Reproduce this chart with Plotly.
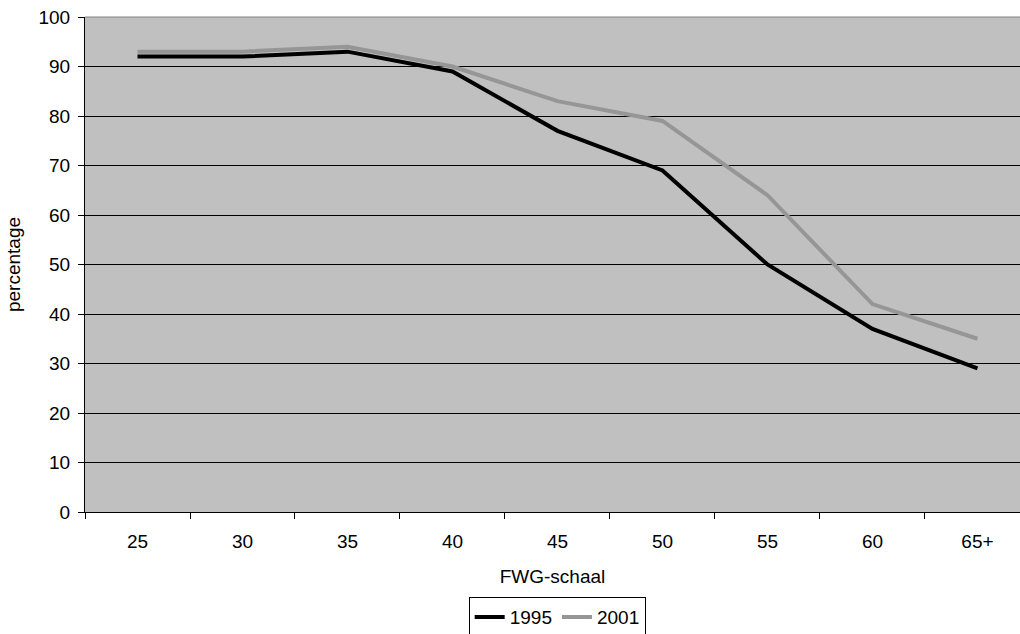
import plotly.graph_objects as go

categories = ["25", "30", "35", "40", "45", "50", "55", "60", "65+"]
values_1995 = [92, 92, 93, 89, 77, 69, 50, 37, 29]
values_2001 = [93, 93, 94, 90, 83, 79, 64, 42, 35]
y_ticks = [0, 10, 20, 30, 40, 50, 60, 70, 80, 90, 100]

fig = go.Figure()
fig.add_trace(go.Scatter(x=categories, y=values_1995, mode="lines", name="1995",
                         line=dict(color="#000000", width=4)))
fig.add_trace(go.Scatter(x=categories, y=values_2001, mode="lines", name="2001",
                         line=dict(color="#969696", width=4)))

font = dict(family="Liberation Sans, Arial, sans-serif", size=19, color="#000000")

fig.update_layout(
    width=1020, height=634,
    margin=dict(l=85, r=0, t=17, b=122, autoexpand=False),
    paper_bgcolor="#FFFFFF",
    plot_bgcolor="#C0C0C0",
    font=font,
    showlegend=True,
    legend=dict(orientation="h", x=0.505, xanchor="center", y=-0.172, yanchor="top",
                bordercolor="#000000", borderwidth=1, bgcolor="#FFFFFF",
                font=font, itemwidth=30, tracegroupgap=0),
    xaxis=dict(
        type="category",
        range=[-0.5, 8.405],
        tickson="boundaries",
        ticks="outside", ticklen=6, tickcolor="#000000", tickwidth=1,
        ticklabelstandoff=12,
        showgrid=False,
        showline=True, linecolor="#000000", linewidth=1,
        zeroline=False,
        title=dict(text="FWG-schaal", font=font, standoff=18),
        tickfont=font,
        automargin=False,
    ),
    yaxis=dict(
        range=[0, 100],
        tickvals=y_ticks,
        ticks="outside", ticklen=6, tickcolor="#000000", tickwidth=1,
        ticklabelstandoff=4,
        showgrid=True, gridcolor="#000000", gridwidth=1,
        showline=True, linecolor="#000000", linewidth=1,
        zeroline=False,
        title=dict(text="percentage", font=font, standoff=12),
        tickfont=font,
        automargin=False,
    ),
)
fig.add_shape(type="line", xref="paper", yref="paper", x0=0, x1=1, y0=1, y1=1,
              line=dict(color="#808080", width=1), layer="above")

fig.write_html("out.html")
